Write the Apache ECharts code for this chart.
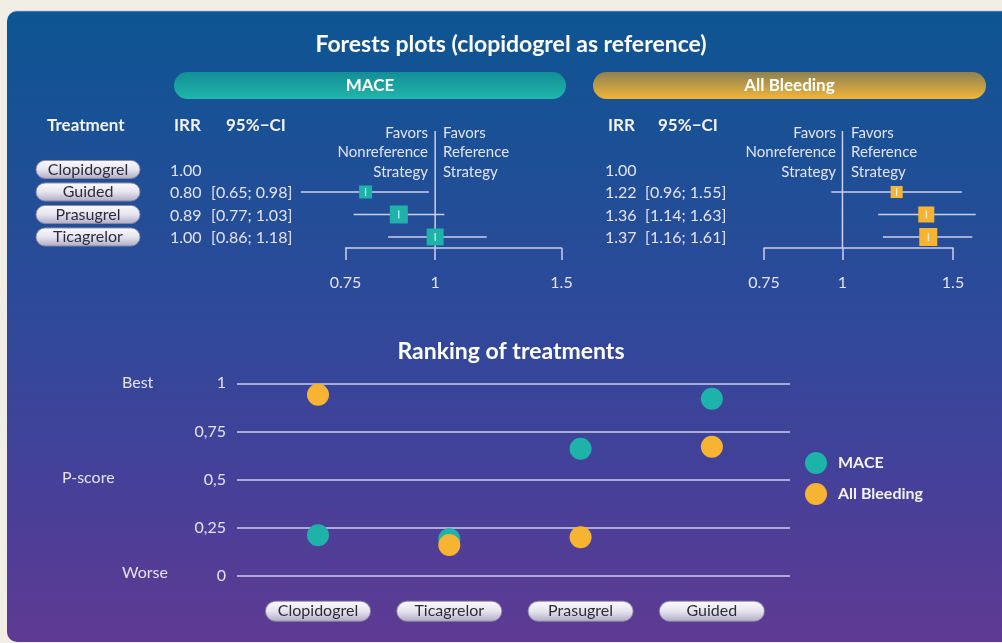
<!DOCTYPE html>
<html>
<head>
<meta charset="utf-8">
<script src="https://cdn.jsdelivr.net/npm/echarts@6/dist/echarts.min.js"></script>
<style>
  html, body { margin: 0; padding: 0; background: #f0eee5; }
  #chart { width: 1002px; height: 643px; }
</style>
</head>
<body>
<div id="chart"></div>
<script>
// ---- Forest plot data (clopidogrel is the reference arm) ----
const treatments = ['Clopidogrel', 'Guided', 'Prasugrel', 'Ticagrelor'];

const maceIRR  = [1.00, 0.80, 0.89, 1.00];
const maceLow  = [null, 0.65, 0.77, 0.86];
const maceHigh = [null, 0.98, 1.03, 1.18];
const maceWeight = [null, 0.72, 1.00, 0.94];

const bleedIRR  = [1.00, 1.22, 1.36, 1.37];
const bleedLow  = [null, 0.96, 1.14, 1.16];
const bleedHigh = [null, 1.55, 1.63, 1.61];
const bleedWeight = [null, 0.67, 0.89, 1.00];

const forestTicks = [0.75, 1, 1.5];

// ---- Ranking (P-scores) ----
const rankOrder = ['Clopidogrel', 'Ticagrelor', 'Prasugrel', 'Guided'];
const maceP  = [0.21, 0.19, 0.66, 0.92];
const bleedP = [0.94, 0.16, 0.20, 0.67];
const pTicks = [0, 0.25, 0.5, 0.75, 1];

// ---- Styling ----
const FONT = 'Lato, "Open Sans", sans-serif';
const LINE = '#cdcfec';
const TEXT = '#e3e3f4';
const TEAL = '#1db3a9';
const GOLD = '#f6b432';
const BOX_MAX = 18;
const ROW_MIN = -0.49, ROW_MAX = 4.71;

const G = echarts.graphic;
const pillFill = () => new G.LinearGradient(0, 0, 0, 1, [
  { offset: 0, color: '#fbfbfe' },
  { offset: 0.5, color: '#e6e4ef' },
  { offset: 1, color: '#aeaac4' }
]);

// row 3 = first treatment at the top
const rowOf = i => treatments.length - 1 - i;
const fmt2 = v => v.toFixed(2);

function forestSeries(gridIdx, irr, lo, hi, wt, color) {
  const data = [];
  irr.forEach((v, i) => {
    if (lo[i] != null) data.push([v, rowOf(i), lo[i], hi[i], wt[i]]);
  });
  return {
    type: 'custom', xAxisIndex: gridIdx, yAxisIndex: gridIdx, silent: true, z: 4,
    encode: { x: [0, 2, 3], y: 1 },
    data,
    renderItem(params, api) {
      const row = api.value(1);
      const c = api.coord([api.value(0), row]);
      const a = api.coord([api.value(2), row]);
      const b = api.coord([api.value(3), row]);
      const s = api.value(4) * BOX_MAX;
      return {
        type: 'group',
        children: [
          { type: 'line', shape: { x1: a[0], y1: a[1], x2: b[0], y2: b[1] },
            style: { stroke: LINE, lineWidth: 1.5 } },
          { type: 'rect', shape: { x: c[0] - s / 2, y: c[1] - s / 2, width: s, height: s },
            style: { fill: color } },
          { type: 'line', shape: { x1: c[0], y1: c[1] - 4, x2: c[0], y2: c[1] + 4 },
            style: { stroke: '#ffffff', lineWidth: 1 } }
        ]
      };
    }
  };
}

// null line at IRR = 1
function nullLine(gridIdx) {
  return {
    type: 'line', xAxisIndex: gridIdx, yAxisIndex: gridIdx, silent: true,
    symbol: 'none', data: [[1, ROW_MIN], [1, ROW_MAX]],
    lineStyle: { color: LINE, width: 1.5 }, z: 3
  };
}

// text columns beside each forest plot
function tableSeries(gridIdx, irr, lo, hi, cols, withPill) {
  return {
    type: 'custom', xAxisIndex: gridIdx, yAxisIndex: gridIdx, silent: true, z: 5,
    data: treatments.map((t, i) => [1, rowOf(i)]),
    renderItem(params, api) {
      const i = params.dataIndex;
      const y = api.coord([1, api.value(1)])[1];
      const kids = [];
      if (withPill) {
        kids.push({ type: 'rect', shape: { x: cols.pill - 52, y: y - 9, width: 104, height: 18, r: 9 },
          style: { fill: pillFill(), stroke: '#8c88a6', lineWidth: 1 } });
        kids.push({ type: 'text', x: cols.pill, y: y,
          style: { text: treatments[i], font: '16px ' + FONT, fill: '#2c2c3a', align: 'center', verticalAlign: 'middle' } });
      }
      kids.push({ type: 'text', x: cols.irr, y: y + 1,
        style: { text: fmt2(irr[i]), font: '16px ' + FONT, fill: TEXT, align: 'left', verticalAlign: 'middle' } });
      if (lo[i] != null) {
        kids.push({ type: 'text', x: cols.ci, y: y + 1,
          style: { text: '[' + fmt2(lo[i]) + '; ' + fmt2(hi[i]) + ']', font: '16px ' + FONT, fill: TEXT, align: 'left', verticalAlign: 'middle' } });
      }
      return { type: 'group', children: kids };
    }
  };
}

function forestX(gridIdx) {
  return {
    type: 'log', gridIndex: gridIdx, min: forestTicks[0], max: forestTicks[forestTicks.length - 1],
    axisLine: { show: true, onZero: false, lineStyle: { color: LINE, width: 1.5 } },
    axisTick: { show: true, customValues: forestTicks, length: 12, inside: false, lineStyle: { color: LINE, width: 1.5 } },
    axisLabel: { customValues: forestTicks, margin: 27, color: TEXT, fontSize: 16, fontFamily: FONT,
      formatter: v => String(Number(v.toFixed(2))) },
    splitLine: { show: false }
  };
}
function forestY(gridIdx) {
  return { type: 'value', gridIndex: gridIdx, min: ROW_MIN, max: ROW_MAX, show: false };
}

function txt(x, y, text, font, align, extra) {
  return Object.assign({ type: 'text', x, y, silent: true,
    style: Object.assign({ text, font: font + ' ' + FONT, fill: TEXT, align: align || 'left', verticalAlign: 'middle' }, extra || {}) });
}

const favorsLeft = 'Favors\nNonreference\nStrategy';
const favorsRight = 'Favors\nReference\nStrategy';

const option = {
  animation: false,
  backgroundColor: '#f0eee5',
  textStyle: { fontFamily: FONT },
  grid: [
    { left: 345.5, top: 131, width: 216, height: 117 },
    { left: 764, top: 131, width: 189, height: 117 },
    { left: 237, top: 383.3, width: 553, height: 192.4 }
  ],
  xAxis: [
    forestX(0),
    forestX(1),
    {
      type: 'value', gridIndex: 2, min: -0.617, max: 3.595,
      axisLine: { show: false }, axisTick: { show: false }, splitLine: { show: false },
      axisLabel: {
        customValues: rankOrder.map((t, i) => i), margin: 26,
        formatter: v => '{p|' + rankOrder[Math.round(v)] + '}',
        rich: {
          p: { width: 104, height: 19, align: 'center', verticalAlign: 'middle',
               backgroundColor: pillFill(), borderRadius: 9.5, borderColor: '#8c88a6', borderWidth: 1,
               color: '#2c2c3a', fontSize: 16, fontFamily: FONT }
        }
      }
    }
  ],
  yAxis: [
    forestY(0),
    forestY(1),
    {
      type: 'value', gridIndex: 2, min: pTicks[0], max: pTicks[pTicks.length - 1], interval: pTicks[1] - pTicks[0],
      axisLine: { show: false }, axisTick: { show: false },
      splitLine: { show: true, lineStyle: { color: LINE, width: 1.5 } },
      axisLabel: { color: TEXT, fontSize: 16, fontFamily: FONT, margin: 11,
        formatter: v => String(v).replace('.', ',') }
    }
  ],
  legend: {
    orient: 'vertical', left: 805, top: 452, padding: 0, itemWidth: 22, itemHeight: 22, itemGap: 9,
    icon: 'circle', data: ['MACE', 'All Bleeding'],
    textStyle: { color: '#f2f2fa', fontSize: 16, fontWeight: 'bold', fontFamily: FONT, padding: [0, 0, 0, 6] }
  },
  series: [
    nullLine(0),
    nullLine(1),
    forestSeries(0, maceIRR, maceLow, maceHigh, maceWeight, TEAL),
    forestSeries(1, bleedIRR, bleedLow, bleedHigh, bleedWeight, GOLD),
    tableSeries(0, maceIRR, maceLow, maceHigh, { pill: 88, irr: 170, ci: 211 }, true),
    tableSeries(1, bleedIRR, bleedLow, bleedHigh, { irr: 605, ci: 645 }, false),
    {
      name: 'MACE', type: 'scatter', xAxisIndex: 2, yAxisIndex: 2, symbolSize: 22,
      itemStyle: { color: TEAL, opacity: 1 },
      data: maceP.map((v, i) => [i, v])
    },
    {
      name: 'All Bleeding', type: 'scatter', xAxisIndex: 2, yAxisIndex: 2, symbolSize: 22,
      itemStyle: { color: GOLD, opacity: 1 },
      data: bleedP.map((v, i) => [i, v])
    }
  ],
  graphic: [
    // panel background
    { type: 'rect', z: -10, silent: true,
      shape: { x: 7, y: 11, width: 1010, height: 631, r: 10 },
      style: { fill: new G.LinearGradient(0, 0, 0, 1, [
        { offset: 0, color: '#0d5593' },
        { offset: 0.45, color: '#2c4a99' },
        { offset: 0.72, color: '#43419a' },
        { offset: 1, color: '#5f3a93' }
      ]) } },
    { type: 'line', z: -9, silent: true, shape: { x1: 14, y1: 11, x2: 1002, y2: 11 },
      style: { stroke: 'rgba(160,190,225,0.7)', lineWidth: 1 } },

    txt(511, 45, 'Forests plots (clopidogrel as reference)', 'bold 23px', 'center', { fill: '#ffffff' }),

    // outcome header bars
    { type: 'rect', silent: true, shape: { x: 174, y: 72, width: 392, height: 27, r: 13.5 },
      style: { fill: new G.LinearGradient(0, 0, 0, 1, [
        { offset: 0, color: '#138e96' }, { offset: 1, color: '#21b6ab' }]) } },
    txt(370, 86, 'MACE', 'bold 17px', 'center', { fill: '#ffffff' }),
    { type: 'rect', silent: true, shape: { x: 593, y: 72, width: 393, height: 27, r: 13.5 },
      style: { fill: new G.LinearGradient(0, 0, 0, 1, [
        { offset: 0, color: '#8c8152' }, { offset: 1, color: '#f2b53a' }]) } },
    txt(789.5, 86, 'All Bleeding', 'bold 17px', 'center', { fill: '#ffffff' }),

    // table headers
    txt(47, 126, 'Treatment', 'bold 17px', 'left', { fill: '#f2f2fa' }),
    txt(174, 126, 'IRR', 'bold 17px', 'left', { fill: '#f2f2fa' }),
    txt(226, 126, '95%\u2212CI', 'bold 17px', 'left', { fill: '#f2f2fa' }),
    txt(608, 126, 'IRR', 'bold 17px', 'left', { fill: '#f2f2fa' }),
    txt(658, 126, '95%\u2212CI', 'bold 17px', 'left', { fill: '#f2f2fa' }),

    // direction captions around the null line
    txt(428, 123, favorsLeft, '15px', 'right', { verticalAlign: 'top', lineHeight: 19.5 }),
    txt(443, 123, favorsRight, '15px', 'left', { verticalAlign: 'top', lineHeight: 19.5 }),
    txt(836, 123, favorsLeft, '15px', 'right', { verticalAlign: 'top', lineHeight: 19.5 }),
    txt(851, 123, favorsRight, '15px', 'left', { verticalAlign: 'top', lineHeight: 19.5 }),

    // ranking panel
    txt(511, 352, 'Ranking of treatments', 'bold 23px', 'center', { fill: '#ffffff' }),
    txt(122, 383, 'Best', '16px', 'left'),
    txt(62, 478, 'P-score', '16px', 'left'),
    txt(122, 573, 'Worse', '16px', 'left')
  ]
};

const chart = echarts.init(document.getElementById('chart'), null, { renderer: 'canvas' });
chart.setOption(option);
</script>
</body>
</html>
